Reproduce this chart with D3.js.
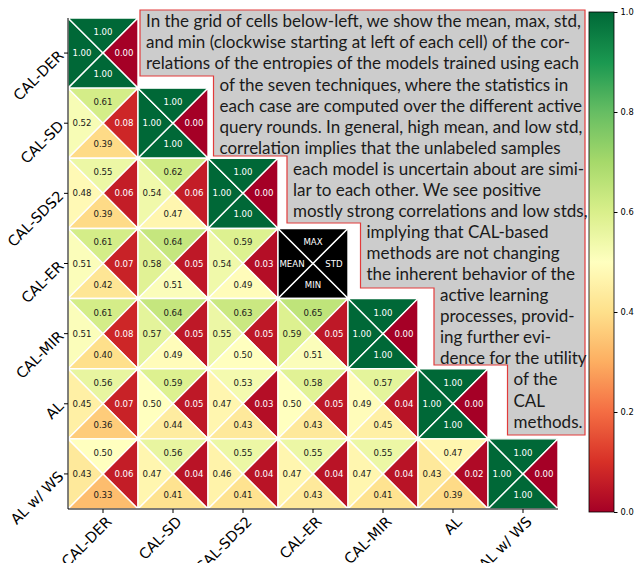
<!DOCTYPE html>
<html>
<head>
<meta charset="utf-8">
<script src="https://cdn.jsdelivr.net/npm/d3@7"></script>
<style>
  html, body { margin: 0; padding: 0; background: #ffffff; }
  svg { display: block; }
</style>
</head>
<body>
<svg id="chart" width="638" height="563"></svg>
<script>
// Techniques compared (rows and columns of the lower-triangular grid)
const categories = ["CAL-DER", "CAL-SD", "CAL-SDS2", "CAL-ER", "CAL-MIR", "AL", "AL w/ WS"];

// Correlation statistics per pair (row i, column j <= i); null = key cell
const meanVals = [
  [1.00],
  [0.52, 1.00],
  [0.48, 0.54, 1.00],
  [0.51, 0.58, 0.54, null],
  [0.51, 0.57, 0.55, 0.59, 1.00],
  [0.45, 0.50, 0.47, 0.50, 0.49, 1.00],
  [0.43, 0.47, 0.46, 0.47, 0.47, 0.43, 1.00]
];
const maxVals = [
  [1.00],
  [0.61, 1.00],
  [0.55, 0.62, 1.00],
  [0.61, 0.64, 0.59, null],
  [0.61, 0.64, 0.63, 0.65, 1.00],
  [0.56, 0.59, 0.53, 0.58, 0.57, 1.00],
  [0.50, 0.56, 0.55, 0.55, 0.55, 0.47, 1.00]
];
const stdVals = [
  [0.00],
  [0.08, 0.00],
  [0.06, 0.06, 0.00],
  [0.07, 0.05, 0.03, null],
  [0.08, 0.05, 0.05, 0.05, 0.00],
  [0.07, 0.05, 0.03, 0.05, 0.04, 0.00],
  [0.06, 0.04, 0.04, 0.04, 0.04, 0.02, 0.00]
];
const minVals = [
  [1.00],
  [0.39, 1.00],
  [0.39, 0.47, 1.00],
  [0.42, 0.51, 0.49, null],
  [0.40, 0.49, 0.50, 0.51, 1.00],
  [0.36, 0.44, 0.43, 0.43, 0.45, 1.00],
  [0.33, 0.41, 0.41, 0.43, 0.41, 0.39, 1.00]
];

// Labels of the key cell (left, top, right, bottom)
const keyLabels = ["MEAN", "MAX", "STD", "MIN"];

// Colour bar ticks
const colorbarTicks = [0.0, 0.2, 0.4, 0.6, 0.8, 1.0];

// Caption lines with their indentation level (stair-stepped box)
const captionLines = [
  [0, "In the grid of cells below-left, we show the mean, max, std,"],
  [0, "and min (clockwise starting at left of each cell) of the cor-"],
  [0, "relations of the entropies of the models trained using each"],
  [1, "of the seven techniques, where the statistics in"],
  [1, "each case are computed over the different active"],
  [1, "query rounds. In general, high mean, and low std,"],
  [1, "correlation implies that the unlabeled samples"],
  [2, "each model is uncertain about are simi-"],
  [2, "lar to each other. We see positive"],
  [2, "mostly strong correlations and low stds,"],
  [3, "implying that CAL-based"],
  [3, "methods are not changing"],
  [3, "the inherent behavior of the"],
  [4, "active learning"],
  [4, "processes, provid-"],
  [4, "ing further evi-"],
  [4, "dence for the utility"],
  [5, "of the"],
  [5, "CAL"],
  [5, "methods."]
];

// RdYlGn colour map, piecewise linear through the ColorBrewer stops
const rdylgn = ["#a50026", "#d73027", "#f46d43", "#fdae61", "#fee08b", "#ffffbf",
                "#d9ef8b", "#a6d96a", "#66bd63", "#1a9850", "#006837"];
const color = d3.scaleLinear()
  .domain(d3.range(rdylgn.length).map(i => i / (rdylgn.length - 1)))
  .range(rdylgn)
  .interpolate(d3.interpolateRgb)
  .clamp(true);

const svg = d3.select("#chart");

const grid = { left: 68, top: 18, right: 558, bottom: 509 };
const x = d3.scaleBand().domain(categories).range([grid.left, grid.right]);
const y = d3.scaleBand().domain(categories).range([grid.top, grid.bottom]);

// Build cells
const cells = [];
categories.forEach((rowName, i) => {
  for (let j = 0; j <= i; j++) {
    cells.push({
      row: rowName, col: categories[j],
      key: meanVals[i][j] === null,
      stats: [meanVals[i][j], maxVals[i][j], stdVals[i][j], minVals[i][j]]
    });
  }
});

const fmt = d3.format(".2f");
const cellLayer = svg.append("g");

cells.forEach(c => {
  const x0 = x(c.col), x1 = x0 + x.bandwidth();
  const y0 = y(c.row), y1 = y0 + y.bandwidth();
  const cx = (x0 + x1) / 2, cy = (y0 + y1) / 2;
  const w = x.bandwidth(), h = y.bandwidth();
  const tris = [
    [[x0, y0], [cx, cy], [x0, y1]],   // left: mean
    [[x0, y0], [x1, y0], [cx, cy]],   // top: max
    [[x1, y0], [x1, y1], [cx, cy]],   // right: std
    [[x0, y1], [x1, y1], [cx, cy]]    // bottom: min
  ];
  const labelPos = [
    [x0 + 0.2 * w, cy], [cx, y0 + 0.2 * h], [x0 + 0.8 * w, cy], [cx, y0 + 0.8 * h]
  ];
  const g = cellLayer.append("g");
  tris.forEach((pts, k) => {
    g.append("path")
      .attr("d", d3.line()(pts) + "Z")
      .attr("fill", c.key ? "#000000" : color(c.stats[k]))
      .attr("stroke", "#ffffff")
      .attr("stroke-width", 1.4)
      .attr("stroke-linejoin", "miter");
  });
  labelPos.forEach((p, k) => {
    const v = c.stats[k];
    const txt = c.key ? keyLabels[k] : fmt(v);
    const light = c.key || v < 0.25 || v > 0.75;
    g.append("text")
      .attr("x", p[0]).attr("y", p[1])
      .attr("text-anchor", "middle")
      .attr("dominant-baseline", "central")
      .attr("font-family", "DejaVu Sans")
      .attr("font-size", 8.6)
      .attr("fill", light ? "#ffffff" : "#1a1a1a")
      .text(txt);
  });
});

// Axes
const labelFont = 14.5;
const yAxis = svg.append("g")
  .attr("transform", `translate(${grid.left},0)`)
  .call(d3.axisLeft(y).tickSize(4).tickSizeOuter(0));
yAxis.select(".domain").attr("stroke", "#000").attr("d", `M0,${grid.top}V${grid.bottom}`);
yAxis.selectAll("text")
  .attr("x", null).attr("dy", null)
  .attr("transform", "translate(-7,0) rotate(-45)")
  .attr("text-anchor", "end")
  .attr("dominant-baseline", "central")
  .attr("font-family", "DejaVu Sans")
  .attr("font-size", labelFont)
  .attr("fill", "#000");

const xAxis = svg.append("g")
  .attr("transform", `translate(0,${grid.bottom})`)
  .call(d3.axisBottom(x).tickSize(4).tickSizeOuter(0));
xAxis.select(".domain").attr("stroke", "#000").attr("d", `M${grid.left},0H${grid.right}`);
xAxis.selectAll("text")
  .attr("y", null).attr("dy", "0.75em")
  .attr("transform", "translate(2,6) rotate(-45)")
  .attr("text-anchor", "end")
  .attr("font-family", "DejaVu Sans")
  .attr("font-size", labelFont)
  .attr("fill", "#000");

// Caption box with stair-stepped outline
const step = x.bandwidth() * 1.05;
const boxTop = 10, boxRight = 585, boxLeft0 = 140;
const lineH = 21.07, firstBase = 27.3;
// lower edge of each indentation tier of the box
const tierBottoms = [76, 156, 223, 288, 365, 435];
const pts = [[boxLeft0, boxTop], [boxRight, boxTop], [boxRight, tierBottoms[5]]];
for (let t = tierBottoms.length - 1; t >= 0; t--) {
  const lx = boxLeft0 + t * step;
  pts.push([lx, tierBottoms[t]]);
  pts.push([lx, t === 0 ? boxTop : tierBottoms[t - 1]]);
}
svg.append("path")
  .attr("d", d3.line()(pts) + "Z")
  .attr("fill", "#cccccc")
  .attr("stroke", "#e23b3b")
  .attr("stroke-width", 1.2);

svg.append("g").selectAll("text")
  .data(captionLines)
  .join("text")
  .attr("x", d => boxLeft0 + 6 + d[0] * step)
  .attr("y", (d, i) => firstBase + i * lineH)
  .attr("font-family", "Lato")
  .attr("font-size", 17)
  .attr("fill", "#1a1a1a")
  .text(d => d[1]);

// Colour bar
const cb = { x: 589, w: 25, top: 12, bottom: 512 };
const cbScale = d3.scaleLinear().domain([0, 1]).range([cb.bottom, cb.top]);
const grad = svg.append("defs").append("linearGradient")
  .attr("id", "cbgrad").attr("x1", 0).attr("y1", 1).attr("x2", 0).attr("y2", 0);
d3.range(0, 1.0001, 0.02).forEach(t => {
  grad.append("stop").attr("offset", t).attr("stop-color", color(t));
});
svg.append("rect")
  .attr("x", cb.x).attr("y", cb.top)
  .attr("width", cb.w).attr("height", cb.bottom - cb.top)
  .attr("fill", "url(#cbgrad)")
  .attr("stroke", "#000").attr("stroke-width", 0.8);
const cbAxis = svg.append("g")
  .attr("transform", `translate(${cb.x + cb.w},0)`)
  .call(d3.axisRight(cbScale).tickValues(colorbarTicks).tickFormat(d3.format(".1f")).tickSize(3.5).tickSizeOuter(0));
cbAxis.select(".domain").remove();
cbAxis.selectAll("text")
  .attr("font-family", "DejaVu Sans")
  .attr("font-size", 8.3)
  .attr("fill", "#000");
</script>
</body>
</html>
